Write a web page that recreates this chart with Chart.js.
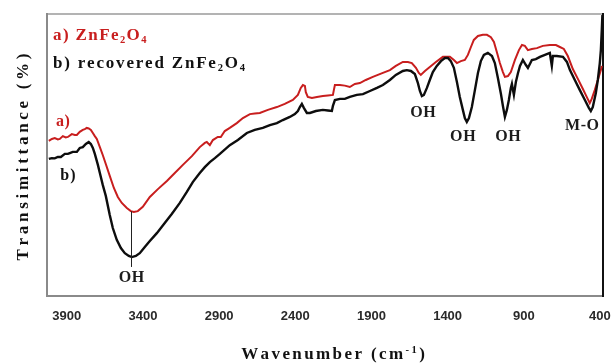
<!DOCTYPE html>
<html>
<head>
<meta charset="utf-8">
<script src="https://cdn.jsdelivr.net/npm/chart.js@4.4.1/dist/chart.umd.min.js"></script>
<style>
  html, body { margin: 0; padding: 0; background: #fff; }
  canvas { display: block; }
</style>
</head>
<body>
<canvas id="ftir" width="613" height="364"></canvas>
<script>
// FT-IR spectra: fresh ZnFe2O4 (a) and recovered ZnFe2O4 (b)
const wavenumberTicks = [3900, 3400, 2900, 2400, 1900, 1400, 900, 400];

const pureWavenumber = [
  4018, 3998, 3979, 3959, 3946, 3926, 3907, 3893, 3867, 3847, 3834, 3815, 3795, 3782, 3769, 3756,
  3742, 3729, 3716, 3703, 3683, 3664, 3644, 3618, 3591, 3565, 3539, 3506, 3480, 3460, 3434, 3401,
  3355, 3302, 3243, 3191, 3138, 3079, 3027, 2994, 2981, 2961, 2941, 2909, 2889, 2863, 2830, 2784,
  2744, 2698, 2666, 2633, 2580, 2521, 2469, 2416, 2383, 2364, 2350, 2337, 2331, 2318, 2291, 2258,
  2219, 2186, 2153, 2147, 2140, 2107, 2075, 2042, 2009, 1976, 1937, 1891, 1858, 1825, 1779, 1740,
  1694, 1661, 1635, 1608, 1589, 1576, 1549, 1517, 1477, 1431, 1385, 1359, 1339, 1313, 1287, 1267,
  1247, 1228, 1201, 1169, 1142, 1116, 1096, 1077, 1057, 1037, 1024, 1004, 985, 958, 932, 912,
  893, 873, 847, 814, 775, 729, 689, 663, 637, 611, 578, 545, 512, 487, 467, 454,
  434, 414, 394, 388
];
const pureTransmittance = [
  55.0, 55.7, 56.0, 55.5, 55.7, 56.7, 56.2, 56.4, 57.4, 57.1, 57.1, 58.2, 58.9, 59.2, 59.6, 59.4,
  58.9, 57.8, 56.7, 55.7, 52.8, 50.0, 46.8, 42.6, 38.3, 35.1, 33.0, 31.2, 30.1, 29.8, 30.1, 31.6,
  35.1, 37.9, 40.8, 43.6, 46.5, 49.6, 52.8, 54.3, 54.6, 53.5, 55.3, 56.4, 56.4, 58.5, 59.6, 61.3,
  63.1, 64.5, 64.7, 64.9, 66.0, 67.0, 68.1, 69.5, 71.3, 73.8, 74.8, 74.5, 72.3, 70.6, 70.2, 70.6,
  70.9, 71.1, 71.3, 73.0, 74.8, 74.8, 74.6, 74.1, 75.2, 75.5, 76.6, 77.7, 78.4, 79.1, 80.1, 81.6,
  83.0, 83.0, 82.6, 80.9, 79.1, 78.4, 79.8, 81.2, 83.0, 84.8, 84.8, 83.7, 82.6, 83.3, 83.7, 85.5,
  88.3, 90.8, 92.2, 92.6, 92.6, 91.8, 90.1, 86.5, 82.6, 79.4, 77.7, 78.0, 79.4, 83.7, 87.2, 89.0,
  88.7, 87.2, 87.6, 87.9, 88.7, 89.0, 89.0, 88.3, 87.6, 85.1, 80.5, 77.0, 73.4, 70.6, 68.4, 69.9,
  73.0, 76.6, 80.1, 81.6
];

const recoveredWavenumber = [
  4018, 3998, 3979, 3959, 3939, 3913, 3893, 3880, 3861, 3834, 3815, 3795, 3775, 3756, 3742, 3729,
  3716, 3696, 3683, 3664, 3644, 3618, 3598, 3572, 3545, 3519, 3493, 3473, 3447, 3421, 3388, 3355,
  3309, 3257, 3211, 3158, 3112, 3073, 3027, 2994, 2961, 2928, 2895, 2830, 2777, 2718, 2666, 2613,
  2567, 2521, 2482, 2436, 2403, 2383, 2370, 2357, 2344, 2324, 2304, 2265, 2219, 2186, 2160, 2153,
  2140, 2107, 2075, 2042, 1996, 1956, 1910, 1864, 1825, 1779, 1740, 1694, 1668, 1641, 1615, 1595,
  1582, 1569, 1556, 1536, 1517, 1497, 1471, 1444, 1418, 1398, 1379, 1359, 1339, 1320, 1300, 1287,
  1274, 1260, 1241, 1221, 1201, 1182, 1162, 1136, 1109, 1090, 1070, 1050, 1037, 1024, 1011, 998,
  985, 978, 971, 965, 952, 938, 925, 906, 886, 873, 860, 847, 821, 794, 761, 729,
  722, 716, 709, 683, 643, 617, 597, 565, 532, 499, 473, 460, 447, 427, 414, 401,
  394, 388, 384
];
const recoveredTransmittance = [
  48.6, 48.9, 48.8, 49.3, 49.3, 50.4, 50.4, 50.7, 51.1, 51.1, 52.5, 52.8, 53.9, 54.6, 53.9, 52.5,
  50.4, 46.5, 43.6, 39.4, 35.5, 28.7, 24.1, 19.9, 17.0, 15.2, 14.2, 13.8, 14.2, 15.2, 17.4, 19.5,
  22.3, 25.9, 29.1, 33.0, 36.9, 40.4, 43.6, 45.7, 47.5, 48.9, 50.4, 53.5, 55.3, 57.8, 58.9, 59.6,
  60.6, 61.3, 62.4, 63.5, 64.5, 65.6, 67.0, 68.1, 66.7, 64.9, 64.9, 65.6, 66.0, 65.8, 65.6, 67.4,
  69.5, 69.9, 69.9, 70.6, 71.3, 71.6, 72.7, 73.8, 74.8, 76.6, 78.4, 79.8, 80.1, 79.8, 78.7, 75.5,
  72.7, 70.9, 71.3, 73.8, 76.6, 79.4, 81.6, 83.3, 84.4, 84.4, 83.3, 80.9, 75.9, 70.6, 66.0, 63.1,
  61.7, 63.1, 67.0, 73.0, 79.1, 83.3, 85.5, 86.2, 85.1, 82.6, 77.3, 71.6, 67.4, 63.5, 66.0, 69.5,
  73.8, 75.2, 73.0, 71.3, 75.9, 79.1, 81.6, 83.7, 81.9, 80.9, 82.3, 83.7, 84.0, 84.8, 85.5, 86.2,
  83.7, 81.6, 85.1, 85.1, 84.8, 83.0, 80.1, 76.6, 73.0, 69.5, 66.7, 65.6, 67.0, 72.0, 76.6, 82.6,
  87.2, 94.3, 99.6
];

// Band assignments written on the plot
const bandLabels = ['OH', 'OH', 'OH', 'OH', 'M-O'];
const bandWavenumber = [3476, 1562, 1300, 1004, 518];
const bandTextLevel = [6.4, 64.9, 56.4, 56.4, 60.3];

const RED = '#c81e1e';
const SERIF = '"Liberation Serif", "Times New Roman", serif';

function toPoints(xs, ys) {
  return xs.map((x, i) => ({ x: x, y: ys[i] }));
}

function valueAt(xs, ys, w) {
  for (let i = 0; i < xs.length - 1; i++) {
    const a = xs[i], b = xs[i + 1];
    if ((w <= a && w >= b) || (w >= a && w <= b)) {
      const t = (w - a) / (b - a);
      return ys[i] + t * (ys[i + 1] - ys[i]);
    }
  }
  return ys[ys.length - 1];
}

// Text made of runs (normal / subscript / superscript) drawn with extra tracking
function runsWidth(ctx, runs, size, spacing) {
  let w = 0, n = 0;
  runs.forEach(r => {
    const s = r.shift ? size * 0.62 : size;
    ctx.font = 'bold ' + s + 'px ' + SERIF;
    for (const ch of r.text) { w += ctx.measureText(ch).width; n++; }
  });
  return w + spacing * (n - 1);
}
function drawRuns(ctx, runs, x, y, size, spacing, align) {
  const total = runsWidth(ctx, runs, size, spacing);
  let cx = align === 'center' ? x - total / 2 : x;
  runs.forEach(r => {
    const s = r.shift ? size * 0.62 : size;
    const dy = r.shift === 'sub' ? size * 0.2 : (r.shift === 'sup' ? -size * 0.38 : 0);
    ctx.font = 'bold ' + s + 'px ' + SERIF;
    for (const ch of r.text) {
      ctx.fillText(ch, cx, y + dy);
      cx += ctx.measureText(ch).width + spacing;
    }
  });
}

const decorations = {
  id: 'decorations',
  beforeDatasetsDraw(chart) {
    const { ctx, chartArea: a } = chart;
    ctx.save();
    ctx.lineCap = 'square';
    ctx.strokeStyle = '#9a9a9a';
    ctx.lineWidth = 1.5;
    ctx.beginPath(); ctx.moveTo(a.left, a.top); ctx.lineTo(a.right, a.top); ctx.stroke();
    ctx.strokeStyle = '#8a8a8a';
    ctx.lineWidth = 2;
    ctx.beginPath(); ctx.moveTo(a.left, a.top); ctx.lineTo(a.left, a.bottom); ctx.lineTo(a.right, a.bottom); ctx.stroke();
    ctx.strokeStyle = '#111';
    ctx.beginPath(); ctx.moveTo(a.right, a.top); ctx.lineTo(a.right, a.bottom); ctx.stroke();
    ctx.restore();
  },
  afterDatasetsDraw(chart) {
    const { ctx } = chart;
    const xs = chart.scales.x, ys = chart.scales.y;
    ctx.save();

    // marker line under the broad O-H stretching band
    const wOH = bandWavenumber[0];
    const px = Math.round(xs.getPixelForValue(wOH)) + 0.5;
    ctx.strokeStyle = '#222';
    ctx.lineWidth = 1;
    ctx.beginPath();
    ctx.moveTo(px, ys.getPixelForValue(valueAt(pureWavenumber, pureTransmittance, wOH)));
    ctx.lineTo(px, ys.getPixelForValue(10.3));
    ctx.stroke();

    // band assignments
    ctx.fillStyle = '#1c1c1c';
    ctx.textBaseline = 'middle';
    bandLabels.forEach((t, i) => {
      drawRuns(ctx, [{ text: t }], xs.getPixelForValue(bandWavenumber[i]),
        ys.getPixelForValue(bandTextLevel[i]), 16, 0.6, 'center');
    });

    // curve tags
    ctx.fillStyle = RED;
    drawRuns(ctx, [{ text: 'a)' }], xs.getPixelForValue(3926), ys.getPixelForValue(61.7), 16, 0.6, 'center');
    ctx.fillStyle = '#111';
    drawRuns(ctx, [{ text: 'b)' }], xs.getPixelForValue(3893), ys.getPixelForValue(42.6), 16, 1.2, 'center');

    // legend text
    ctx.textBaseline = 'alphabetic';
    ctx.fillStyle = RED;
    drawRuns(ctx, [{ text: 'a) ZnFe' }, { text: '2', shift: 'sub' }, { text: 'O' }, { text: '4', shift: 'sub' }],
      53, 40, 17, 1.4, 'left');
    ctx.fillStyle = '#111';
    drawRuns(ctx, [{ text: 'b) recovered ZnFe' }, { text: '2', shift: 'sub' }, { text: 'O' }, { text: '4', shift: 'sub' }],
      53, 68, 17, 1.8, 'left');
    ctx.restore();
  },
  afterDraw(chart) {
    const { ctx } = chart;
    ctx.save();
    ctx.fillStyle = '#111';
    ctx.textBaseline = 'alphabetic';
    // x-axis title
    drawRuns(ctx, [{ text: 'Wavenumber (cm' }, { text: '-1', shift: 'sup' }, { text: ')' }],
      333, 359, 17, 2.4, 'center');
    // y-axis title
    ctx.translate(28, 157);
    ctx.rotate(-Math.PI / 2);
    drawRuns(ctx, [{ text: 'Transimittance (%)' }], 0, 0, 17, 3.7, 'center');
    ctx.restore();
  }
};

new Chart(document.getElementById('ftir'), {
  type: 'line',
  data: {
    datasets: [
      {
        label: 'recovered ZnFe2O4',
        data: toPoints(recoveredWavenumber, recoveredTransmittance),
        borderColor: '#0d0d0d',
        borderWidth: 2.4,
        pointRadius: 0,
        tension: 0,
        order: 0
      },
      {
        label: 'ZnFe2O4',
        data: toPoints(pureWavenumber, pureTransmittance),
        borderColor: RED,
        borderWidth: 2,
        pointRadius: 0,
        tension: 0,
        order: 1
      }
    ]
  },
  options: {
    responsive: false,
    animation: false,
    devicePixelRatio: 1,
    layout: { padding: { left: 47, right: 10, top: 14, bottom: 0 } },
    plugins: { legend: { display: false }, tooltip: { enabled: false } },
    scales: {
      x: {
        type: 'linear',
        reverse: true,
        min: 380,
        max: 4030,
        grid: { display: false, drawTicks: false },
        border: { display: false },
        afterBuildTicks: s => { s.ticks = wavenumberTicks.map(v => ({ value: v })); },
        afterFit: s => { s.height = 68; s.paddingLeft = 0; s.paddingRight = 0; },
        ticks: {
          autoSkip: false,
          maxRotation: 0,
          padding: 13,
          color: '#2a2a2a',
          font: { family: '"Liberation Sans", Arial, sans-serif', size: 13, weight: 'bold' },
          callback: v => String(v)
        }
      },
      y: { display: false, min: 0, max: 100 }
    }
  },
  plugins: [decorations]
});
</script>
</body>
</html>
